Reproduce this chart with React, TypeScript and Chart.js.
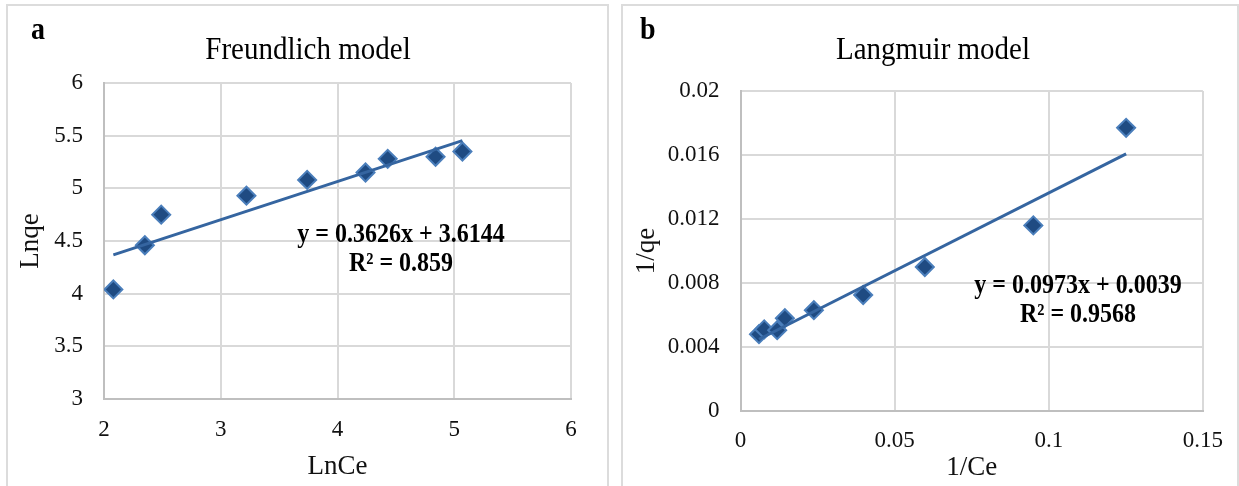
import React, { useEffect, useRef } from "react";
import { Chart, registerables } from "chart.js";

Chart.register(...registerables);

// ---------- data ----------
const freundlichLnCe = [2.08, 2.35, 2.49, 3.22, 3.74, 4.24, 4.43, 4.84, 5.07];
const freundlichLnqe = [4.04, 4.46, 4.75, 4.93, 5.08, 5.15, 5.28, 5.30, 5.35];
const freundlichFit = [0.3626, 3.6144]; // slope, intercept
const freundlichR2 = "0.859";
const freundlichXTicks = [2, 3, 4, 5, 6];
const freundlichYTicks = [3, 3.5, 4, 4.5, 5, 5.5, 6];
const freundlichXLabels = ["2", "3", "4", "5", "6"];
const freundlichYLabels = ["3", "3.5", "4", "4.5", "5", "5.5", "6"];

const langmuirInvCe = [0.006, 0.0077, 0.0119, 0.0144, 0.0238, 0.0398, 0.0598, 0.095, 0.1251];
const langmuirInvqe = [0.0048, 0.0051, 0.00505, 0.0058, 0.0063, 0.00725, 0.009, 0.0116, 0.0177];
const langmuirFit = [0.0973, 0.0039];
const langmuirR2 = "0.9568";
const langmuirXTicks = [0, 0.05, 0.1, 0.15];
const langmuirYTicks = [0, 0.004, 0.008, 0.012, 0.016, 0.02];
const langmuirXLabels = ["0", "0.05", "0.1", "0.15"];
const langmuirYLabels = ["0", "0.004", "0.008", "0.012", "0.016", "0.02"];

// ---------- style ----------
const SERIF = "'Liberation Serif', 'Times New Roman', serif";
const W = 1239;
const H = 486;
const GRID = "#d9d9d9";
const AXIS = "#bfbfbf";
const MARKER_FILL = "#1f4b82";
const MARKER_EDGE = "#4a7ebb";
const TREND = "#3565a0";
const STRETCH = 1.1;

type PanelSpec = {
  xs: number[];
  ys: number[];
  fit: number[];
  r2: string;
  xTicks: number[];
  yTicks: number[];
  xLabels: string[];
  yLabels: string[];
  xTitle: string;
  yTitle: string;
  title: string;
  letter: string;
  pad: { left: number; right: number; top: number; bottom: number };
  yAxisWidth: number;
  xAxisHeight: number;
  yTitlePad: number;
  xTitlePad: number;
  tickPadX: number;
  tickPadY: number;
  titleX: number;
  letterX: number;
  eqX: number;
  eqY: number;
};

function stretchedText(ctx: CanvasRenderingContext2D, t: string, x: number, y: number) {
  ctx.save();
  ctx.translate(x, y);
  ctx.scale(1, STRETCH);
  ctx.fillText(t, 0, 0);
  ctx.restore();
}

function makeConfig(p: PanelSpec): any {
  const minX = Math.min(...p.xs);
  const maxX = Math.max(...p.xs);
  const trend = [
    { x: minX, y: p.fit[0] * minX + p.fit[1] },
    { x: maxX, y: p.fit[0] * maxX + p.fit[1] },
  ];
  const points = p.xs.map((x, i) => ({ x, y: p.ys[i] }));

  const textPlugin = {
    id: "panelText" + p.letter,
    afterDraw(chart: any) {
      const ctx = chart.ctx as CanvasRenderingContext2D;
      ctx.save();
      ctx.fillStyle = "#000";
      ctx.textBaseline = "alphabetic";
      ctx.font = `bold 28px ${SERIF}`;
      ctx.textAlign = "left";
      stretchedText(ctx, p.letter, p.letterX, 39);
      ctx.font = `29px ${SERIF}`;
      ctx.textAlign = "center";
      stretchedText(ctx, p.title, p.titleX, 59);
      ctx.font = `bold 24px ${SERIF}`;
      stretchedText(ctx, `y = ${p.fit[0]}x + ${p.fit[1]}`, p.eqX, p.eqY);
      stretchedText(ctx, `R\u00B2 = ${p.r2}`, p.eqX, p.eqY + 29);
      ctx.restore();
    },
  };

  return {
    type: "scatter",
    data: {
      datasets: [
        {
          data: trend,
          showLine: true,
          borderColor: TREND,
          borderWidth: 3,
          pointRadius: 0,
          fill: false,
        },
        {
          data: points,
          pointStyle: "rectRot",
          pointRadius: 9,
          pointBackgroundColor: MARKER_FILL,
          pointBorderColor: MARKER_EDGE,
          pointBorderWidth: 2,
          showLine: false,
        },
      ],
    },
    options: {
      responsive: false,
      animation: false,
      layout: { padding: p.pad },
      plugins: {
        legend: { display: false },
        tooltip: { enabled: false },
        title: { display: false },
      },
      scales: {
        x: {
          type: "linear",
          min: p.xTicks[0],
          max: p.xTicks[p.xTicks.length - 1],
          afterBuildTicks: (s: any) => {
            s.ticks = p.xTicks.map((v) => ({ value: v }));
          },
          afterFit: (s: any) => {
            s.height = p.xAxisHeight;
          },
          grid: { color: GRID, lineWidth: 2, drawTicks: false },
          border: { color: AXIS, width: 2 },
          ticks: {
            padding: p.tickPadX,
            color: "#111",
            font: { family: SERIF, size: 23, lineHeight: 1.2 },
            maxRotation: 0,
            autoSkip: false,
            callback: (_v: any, i: number) => p.xLabels[i],
          },
          title: {
            display: true,
            text: p.xTitle,
            color: "#111",
            font: { family: SERIF, size: 27, lineHeight: 1 },
            padding: { top: 0, bottom: p.xTitlePad },
          },
        },
        y: {
          type: "linear",
          min: p.yTicks[0],
          max: p.yTicks[p.yTicks.length - 1],
          afterBuildTicks: (s: any) => {
            s.ticks = p.yTicks.map((v) => ({ value: v }));
          },
          afterFit: (s: any) => {
            s.width = p.yAxisWidth;
          },
          grid: { color: GRID, lineWidth: 2, drawTicks: false },
          border: { color: AXIS, width: 2 },
          ticks: {
            padding: p.tickPadY,
            color: "#111",
            font: { family: SERIF, size: 23, lineHeight: 1.2 },
            autoSkip: false,
            callback: (_v: any, i: number) => p.yLabels[i],
          },
          title: {
            display: true,
            text: p.yTitle,
            color: "#111",
            font: { family: SERIF, size: 27, lineHeight: 1 },
            padding: { top: p.yTitlePad, bottom: 0 },
          },
        },
      },
    },
    plugins: [textPlugin],
  };
}

const panelA: PanelSpec = {
  xs: freundlichLnCe,
  ys: freundlichLnqe,
  fit: freundlichFit,
  r2: freundlichR2,
  xTicks: freundlichXTicks,
  yTicks: freundlichYTicks,
  xLabels: freundlichXLabels,
  yLabels: freundlichYLabels,
  xTitle: "LnCe",
  yTitle: "Lnqe",
  title: "Freundlich model",
  letter: "a",
  pad: { left: 8, right: W - 571, top: 83, bottom: 0 },
  yAxisWidth: 96,
  xAxisHeight: 87,
  yTitlePad: 9.5,
  xTitlePad: 5.5,
  tickPadX: 17,
  tickPadY: 21,
  titleX: 308,
  letterX: 31,
  eqX: 401,
  eqY: 242,
};

const panelB: PanelSpec = {
  xs: langmuirInvCe,
  ys: langmuirInvqe,
  fit: langmuirFit,
  r2: langmuirR2,
  xTicks: langmuirXTicks,
  yTicks: langmuirYTicks,
  xLabels: langmuirXLabels,
  yLabels: langmuirYLabels,
  xTitle: "1/Ce",
  yTitle: "1/qe",
  title: "Langmuir model",
  letter: "b",
  pad: { left: 625, right: W - 1205.5, top: 91, bottom: 0 },
  yAxisWidth: 115.5,
  xAxisHeight: 75,
  yTitlePad: 8.5,
  xTitlePad: 4.5,
  tickPadX: 16,
  tickPadY: 21,
  titleX: 933,
  letterX: 640,
  eqX: 1078,
  eqY: 293,
};

function ChartCanvas({ spec }: { spec: PanelSpec }) {
  const ref = useRef<HTMLCanvasElement | null>(null);
  useEffect(() => {
    if (!ref.current) return;
    const chart = new Chart(ref.current, makeConfig(spec));
    return () => chart.destroy();
  }, [spec]);
  return (
    <canvas
      ref={ref}
      width={W}
      height={H}
      style={{ position: "absolute", left: 0, top: 0, width: W, height: H }}
    />
  );
}

export default function App() {
  return (
    <div
      style={{
        position: "absolute",
        left: 0,
        top: 0,
        width: W,
        height: H,
        overflow: "hidden",
        background: "#fff",
      }}
    >
      <div
        style={{
          position: "absolute",
          left: 6,
          top: 4,
          width: 599,
          height: 500,
          border: "2px solid #dcdcdc",
        }}
      />
      <div
        style={{
          position: "absolute",
          left: 621,
          top: 4,
          width: 614,
          height: 500,
          border: "2px solid #dcdcdc",
        }}
      />
      <ChartCanvas spec={panelA} />
      <ChartCanvas spec={panelB} />
    </div>
  );
}
